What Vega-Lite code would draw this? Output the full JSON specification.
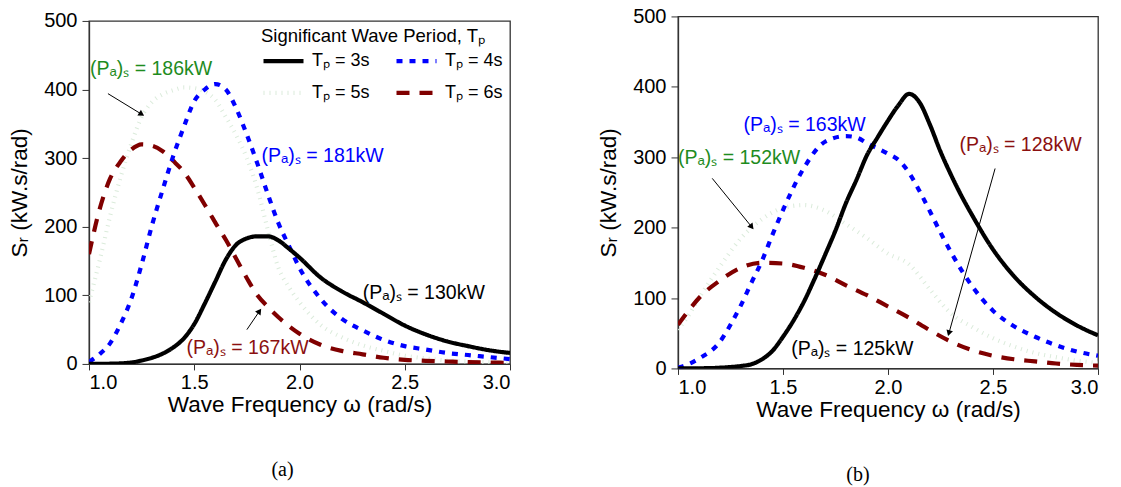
{
  "$schema": "https://vega.github.io/schema/vega-lite/v6.json",
  "background": "white",
  "padding": {"left": 7, "top": 5, "right": 5, "bottom": 5},
  "config": {
    "font": "Liberation Sans",
    "view": {"stroke": "#333", "strokeWidth": 1.3},
    "axis": {"grid": false, "domainColor": "#333", "domainWidth": 1.3, "tickColor": "#333", "labelColor": "#000", "titleColor": "#000", "labelFontSize": 20, "titleFontSize": 22.5, "titleFontWeight": "normal", "labelFont": "Liberation Sans", "titleFont": "Liberation Sans"},
    "text": {"font": "Liberation Sans", "fontSize": 19.5, "align": "left", "baseline": "middle"}
  },
  "datasets": {
    "a": [
      {"T":"5","w":1.0,"S":90},{"T":"5","w":1.05,"S":150},{"T":"5","w":1.1,"S":215},{"T":"5","w":1.15,"S":272},{"T":"5","w":1.2,"S":320},{"T":"5","w":1.25,"S":360},{"T":"5","w":1.3,"S":382},{"T":"5","w":1.35,"S":393},{"T":"5","w":1.4,"S":399},{"T":"5","w":1.45,"S":403},{"T":"5","w":1.5,"S":402},{"T":"5","w":1.55,"S":397},{"T":"5","w":1.6,"S":385},{"T":"5","w":1.65,"S":360},{"T":"5","w":1.7,"S":333},{"T":"5","w":1.75,"S":300},{"T":"5","w":1.8,"S":255},{"T":"5","w":1.85,"S":195},{"T":"5","w":1.9,"S":140},{"T":"5","w":1.95,"S":112},{"T":"5","w":2.0,"S":90},{"T":"5","w":2.1,"S":57},{"T":"5","w":2.2,"S":39},{"T":"5","w":2.3,"S":27},{"T":"5","w":2.4,"S":19},{"T":"5","w":2.5,"S":12},{"T":"5","w":2.6,"S":8},{"T":"5","w":2.7,"S":5},{"T":"5","w":2.8,"S":3.5},{"T":"5","w":2.9,"S":2.5},{"T":"5","w":3.0,"S":2},
      {"T":"6","w":1.0,"S":160},{"T":"6","w":1.05,"S":225},{"T":"6","w":1.1,"S":270},{"T":"6","w":1.15,"S":295},{"T":"6","w":1.2,"S":312},{"T":"6","w":1.25,"S":320},{"T":"6","w":1.3,"S":318},{"T":"6","w":1.35,"S":310},{"T":"6","w":1.4,"S":296},{"T":"6","w":1.45,"S":280},{"T":"6","w":1.5,"S":257},{"T":"6","w":1.55,"S":232},{"T":"6","w":1.6,"S":206},{"T":"6","w":1.65,"S":181},{"T":"6","w":1.7,"S":153},{"T":"6","w":1.75,"S":125},{"T":"6","w":1.8,"S":100},{"T":"6","w":1.85,"S":83},{"T":"6","w":1.9,"S":68},{"T":"6","w":2.0,"S":44},{"T":"6","w":2.1,"S":28},{"T":"6","w":2.2,"S":19},{"T":"6","w":2.3,"S":14},{"T":"6","w":2.4,"S":9},{"T":"6","w":2.5,"S":6},{"T":"6","w":2.6,"S":4.5},{"T":"6","w":2.7,"S":3.5},{"T":"6","w":2.8,"S":2.5},{"T":"6","w":2.9,"S":2},{"T":"6","w":3.0,"S":1.5},
      {"T":"4","w":1.0,"S":3},{"T":"4","w":1.05,"S":14},{"T":"4","w":1.1,"S":30},{"T":"4","w":1.15,"S":58},{"T":"4","w":1.2,"S":94},{"T":"4","w":1.25,"S":145},{"T":"4","w":1.3,"S":203},{"T":"4","w":1.35,"S":254},{"T":"4","w":1.4,"S":303},{"T":"4","w":1.45,"S":345},{"T":"4","w":1.5,"S":383},{"T":"4","w":1.55,"S":400},{"T":"4","w":1.6,"S":408},{"T":"4","w":1.65,"S":400},{"T":"4","w":1.7,"S":372},{"T":"4","w":1.75,"S":334},{"T":"4","w":1.8,"S":292},{"T":"4","w":1.85,"S":247},{"T":"4","w":1.9,"S":205},{"T":"4","w":1.95,"S":172},{"T":"4","w":2.0,"S":140},{"T":"4","w":2.1,"S":95},{"T":"4","w":2.2,"S":66},{"T":"4","w":2.3,"S":49},{"T":"4","w":2.4,"S":35},{"T":"4","w":2.5,"S":26},{"T":"4","w":2.6,"S":21},{"T":"4","w":2.7,"S":16},{"T":"4","w":2.8,"S":13},{"T":"4","w":2.9,"S":10},{"T":"4","w":3.0,"S":7},
      {"T":"3","w":1.0,"S":0},{"T":"3","w":1.1,"S":0.3},{"T":"3","w":1.2,"S":2},{"T":"3","w":1.25,"S":5},{"T":"3","w":1.3,"S":9},{"T":"3","w":1.35,"S":15},{"T":"3","w":1.4,"S":24},{"T":"3","w":1.45,"S":37},{"T":"3","w":1.5,"S":58},{"T":"3","w":1.55,"S":88},{"T":"3","w":1.6,"S":120},{"T":"3","w":1.65,"S":152},{"T":"3","w":1.7,"S":174},{"T":"3","w":1.75,"S":183},{"T":"3","w":1.8,"S":186},{"T":"3","w":1.85,"S":186},{"T":"3","w":1.9,"S":180},{"T":"3","w":1.95,"S":168},{"T":"3","w":2.0,"S":155},{"T":"3","w":2.1,"S":126},{"T":"3","w":2.2,"S":106},{"T":"3","w":2.3,"S":90},{"T":"3","w":2.4,"S":73},{"T":"3","w":2.5,"S":56},{"T":"3","w":2.6,"S":43},{"T":"3","w":2.7,"S":33},{"T":"3","w":2.8,"S":26},{"T":"3","w":2.9,"S":20},{"T":"3","w":3.0,"S":16}
    ],
    "b": [
      {"T":"5","w":1.0,"S":55},{"T":"5","w":1.05,"S":75},{"T":"5","w":1.1,"S":100},{"T":"5","w":1.2,"S":145},{"T":"5","w":1.3,"S":185},{"T":"5","w":1.4,"S":212},{"T":"5","w":1.5,"S":228},{"T":"5","w":1.6,"S":232},{"T":"5","w":1.7,"S":224},{"T":"5","w":1.8,"S":205},{"T":"5","w":1.9,"S":185},{"T":"5","w":2.0,"S":163},{"T":"5","w":2.1,"S":148},{"T":"5","w":2.2,"S":112},{"T":"5","w":2.3,"S":78},{"T":"5","w":2.4,"S":59},{"T":"5","w":2.5,"S":43},{"T":"5","w":2.6,"S":31},{"T":"5","w":2.7,"S":22},{"T":"5","w":2.8,"S":16},{"T":"5","w":2.9,"S":11},{"T":"5","w":3.0,"S":8},
      {"T":"6","w":1.0,"S":62},{"T":"6","w":1.05,"S":82},{"T":"6","w":1.1,"S":100},{"T":"6","w":1.2,"S":125},{"T":"6","w":1.3,"S":143},{"T":"6","w":1.4,"S":150},{"T":"6","w":1.5,"S":149},{"T":"6","w":1.6,"S":143},{"T":"6","w":1.7,"S":133},{"T":"6","w":1.8,"S":118},{"T":"6","w":1.9,"S":104},{"T":"6","w":2.0,"S":88},{"T":"6","w":2.1,"S":72},{"T":"6","w":2.2,"S":54},{"T":"6","w":2.3,"S":38},{"T":"6","w":2.4,"S":26},{"T":"6","w":2.5,"S":18},{"T":"6","w":2.6,"S":13},{"T":"6","w":2.7,"S":10},{"T":"6","w":2.8,"S":7},{"T":"6","w":2.9,"S":5},{"T":"6","w":3.0,"S":4},
      {"T":"4","w":1.0,"S":1},{"T":"4","w":1.05,"S":6},{"T":"4","w":1.1,"S":14},{"T":"4","w":1.2,"S":38},{"T":"4","w":1.25,"S":62},{"T":"4","w":1.3,"S":90},{"T":"4","w":1.35,"S":122},{"T":"4","w":1.4,"S":153},{"T":"4","w":1.45,"S":190},{"T":"4","w":1.5,"S":225},{"T":"4","w":1.6,"S":285},{"T":"4","w":1.7,"S":322},{"T":"4","w":1.8,"S":330},{"T":"4","w":1.85,"S":328},{"T":"4","w":1.9,"S":320},{"T":"4","w":2.0,"S":305},{"T":"4","w":2.05,"S":296},{"T":"4","w":2.1,"S":278},{"T":"4","w":2.15,"S":252},{"T":"4","w":2.2,"S":223},{"T":"4","w":2.25,"S":193},{"T":"4","w":2.3,"S":165},{"T":"4","w":2.4,"S":117},{"T":"4","w":2.5,"S":82},{"T":"4","w":2.6,"S":60},{"T":"4","w":2.7,"S":45},{"T":"4","w":2.8,"S":33},{"T":"4","w":2.9,"S":24},{"T":"4","w":3.0,"S":18},
      {"T":"3","w":1.0,"S":0},{"T":"3","w":1.1,"S":0.2},{"T":"3","w":1.2,"S":1},{"T":"3","w":1.25,"S":2},{"T":"3","w":1.3,"S":3.5},{"T":"3","w":1.35,"S":6},{"T":"3","w":1.4,"S":13},{"T":"3","w":1.45,"S":25},{"T":"3","w":1.5,"S":45},{"T":"3","w":1.55,"S":68},{"T":"3","w":1.6,"S":95},{"T":"3","w":1.65,"S":127},{"T":"3","w":1.7,"S":161},{"T":"3","w":1.75,"S":196},{"T":"3","w":1.8,"S":235},{"T":"3","w":1.85,"S":268},{"T":"3","w":1.9,"S":303},{"T":"3","w":1.95,"S":328},{"T":"3","w":2.0,"S":352},{"T":"3","w":2.05,"S":374},{"T":"3","w":2.1,"S":390},{"T":"3","w":2.15,"S":378},{"T":"3","w":2.2,"S":346},{"T":"3","w":2.25,"S":308},{"T":"3","w":2.3,"S":275},{"T":"3","w":2.35,"S":245},{"T":"3","w":2.4,"S":218},{"T":"3","w":2.5,"S":169},{"T":"3","w":2.6,"S":131},{"T":"3","w":2.7,"S":102},{"T":"3","w":2.8,"S":79},{"T":"3","w":2.9,"S":61},{"T":"3","w":3.0,"S":47}
    ]
  },
  "hconcat": [
    {
      "width": 421,
      "height": 343,
      "title": {"text": "(a)", "orient": "bottom", "font": "Liberation Serif", "fontSize": 20, "fontWeight": "normal", "offset": 44, "frame": "group", "anchor": "middle", "dx": -17, "color": "#000"},
      "layer": [
        {
          "data": {"name": "a"},
          "mark": {"type": "line", "interpolate": "monotone", "strokeWidth": 4.2, "clip": true},
          "encoding": {
            "x": {"field": "w", "type": "quantitative", "scale": {"domain": [1, 3], "nice": false}, "axis": {"title": "Wave Frequency ω (rad/s)", "values": [1, 1.5, 2, 2.5, 3], "format": ".1f", "tickSize": 6, "labelPadding": 3, "titlePadding": 1}},
            "y": {"field": "S", "type": "quantitative", "scale": {"domain": [0, 500], "nice": false}, "axis": {"title": "Sᵣ (kW.s/rad)", "values": [0, 100, 200, 300, 400, 500], "tickSize": 7, "labelPadding": 5, "titlePadding": 12}},
            "color": {"field": "T", "type": "nominal", "scale": {"domain": ["3", "4", "5", "6"], "range": ["#000000", "#0000ff", "#dbebdb", "#800000"]},
              "legend": {"title": "Significant Wave Period, Tₚ", "orient": "none", "direction": "horizontal", "legendX": 172, "legendY": 6, "columns": 2, "symbolType": "stroke", "symbolSize": 1600, "symbolStrokeWidth": 4.2, "labelExpr": "'Tₚ = ' + datum.label + 's'", "labelFontSize": 18, "titleFontSize": 18.5, "titleFontWeight": "normal", "titleColor": "#000", "labelColor": "#000", "columnPadding": 18, "rowPadding": -24, "labelOffset": 6, "titlePadding": -7, "titleLimit": 400}},
            "strokeDash": {"field": "T", "type": "nominal", "scale": {"domain": ["3", "4", "5", "6"], "range": [[1, 0], [6, 7], [1, 5], [13, 10]]},
              "legend": {"title": "Significant Wave Period, Tₚ", "orient": "none", "direction": "horizontal", "legendX": 172, "legendY": 6, "columns": 2, "symbolType": "stroke", "symbolSize": 1600, "symbolStrokeWidth": 4.2, "labelExpr": "'Tₚ = ' + datum.label + 's'", "labelFontSize": 18, "titleFontSize": 18.5, "titleFontWeight": "normal", "titleColor": "#000", "labelColor": "#000", "columnPadding": 18, "rowPadding": -24, "labelOffset": 6, "titlePadding": -7, "titleLimit": 400}}
          }
        },
        {
          "data": {"values": [{"w": 1.005, "S": 430, "label": "(Pₐ)ₛ = 186kW"}]},
          "mark": {"type": "text", "color": "#1e8c1e"},
          "encoding": {"x": {"field": "w", "type": "quantitative"}, "y": {"field": "S", "type": "quantitative"}, "text": {"field": "label"}}
        },
        {
          "data": {"values": [{"w": 1.82, "S": 303, "label": "(Pₐ)ₛ = 181kW"}]},
          "mark": {"type": "text", "color": "#0000ff"},
          "encoding": {"x": {"field": "w", "type": "quantitative"}, "y": {"field": "S", "type": "quantitative"}, "text": {"field": "label"}}
        },
        {
          "data": {"values": [{"w": 2.3, "S": 103, "label": "(Pₐ)ₛ = 130kW"}]},
          "mark": {"type": "text", "color": "#000000"},
          "encoding": {"x": {"field": "w", "type": "quantitative"}, "y": {"field": "S", "type": "quantitative"}, "text": {"field": "label"}}
        },
        {
          "data": {"values": [{"w": 1.463, "S": 23, "label": "(Pₐ)ₛ = 167kW"}]},
          "mark": {"type": "text", "color": "#8b1010"},
          "encoding": {"x": {"field": "w", "type": "quantitative"}, "y": {"field": "S", "type": "quantitative"}, "text": {"field": "label"}}
        },
        {
          "data": {"values": [{"w": 1.09, "S": 394, "w2": 1.25, "S2": 364}]},
          "mark": {"type": "rule", "color": "#000", "strokeWidth": 1},
          "encoding": {"x": {"field": "w", "type": "quantitative"}, "y": {"field": "S", "type": "quantitative"}, "x2": {"field": "w2"}, "y2": {"field": "S2"}}
        },
        {
          "data": {"values": [{"w": 1.25, "S": 364}]},
          "mark": {"type": "point", "shape": "triangle-right", "filled": true, "color": "#000", "size": 45, "angle": 32, "opacity": 1},
          "encoding": {"x": {"field": "w", "type": "quantitative"}, "y": {"field": "S", "type": "quantitative"}}
        },
        {
          "data": {"values": [{"w": 1.75, "S": 50, "w2": 1.81, "S2": 77}]},
          "mark": {"type": "rule", "color": "#000", "strokeWidth": 1},
          "encoding": {"x": {"field": "w", "type": "quantitative"}, "y": {"field": "S", "type": "quantitative"}, "x2": {"field": "w2"}, "y2": {"field": "S2"}}
        },
        {
          "data": {"values": [{"w": 1.81, "S": 77}]},
          "mark": {"type": "point", "shape": "triangle-right", "filled": true, "color": "#000", "size": 45, "angle": -55, "opacity": 1},
          "encoding": {"x": {"field": "w", "type": "quantitative"}, "y": {"field": "S", "type": "quantitative"}}
        }
      ]
    },
    {
      "width": 420,
      "height": 352,
      "title": {"text": "(b)", "orient": "bottom", "font": "Liberation Serif", "fontSize": 20, "fontWeight": "normal", "offset": 44, "frame": "group", "anchor": "middle", "dx": -30, "color": "#000"},
      "layer": [
        {
          "data": {"name": "b"},
          "mark": {"type": "line", "interpolate": "monotone", "strokeWidth": 4.2, "clip": true},
          "encoding": {
            "x": {"field": "w", "type": "quantitative", "scale": {"domain": [1, 3], "nice": false}, "axis": {"title": "Wave Frequency ω (rad/s)", "values": [1, 1.5, 2, 2.5, 3], "format": ".1f", "tickSize": 6, "labelPadding": 3, "titlePadding": 1}},
            "y": {"field": "S", "type": "quantitative", "scale": {"domain": [0, 500], "nice": false}, "axis": {"title": "Sᵣ (kW.s/rad)", "values": [0, 100, 200, 300, 400, 500], "tickSize": 7, "labelPadding": 5, "titlePadding": 12}},
            "color": {"field": "T", "type": "nominal", "scale": {"domain": ["3", "4", "5", "6"], "range": ["#000000", "#0000ff", "#dbebdb", "#800000"]}, "legend": null},
            "strokeDash": {"field": "T", "type": "nominal", "scale": {"domain": ["3", "4", "5", "6"], "range": [[1, 0], [6, 7], [1, 5], [13, 10]]}, "legend": null}
          }
        },
        {
          "data": {"values": [{"w": 1.312, "S": 346, "label": "(Pₐ)ₛ = 163kW"}]},
          "mark": {"type": "text", "color": "#0000ff"},
          "encoding": {"x": {"field": "w", "type": "quantitative"}, "y": {"field": "S", "type": "quantitative"}, "text": {"field": "label"}}
        },
        {
          "data": {"values": [{"w": 1.0, "S": 299, "label": "(Pₐ)ₛ = 152kW"}]},
          "mark": {"type": "text", "color": "#1e8c1e"},
          "encoding": {"x": {"field": "w", "type": "quantitative"}, "y": {"field": "S", "type": "quantitative"}, "text": {"field": "label"}}
        },
        {
          "data": {"values": [{"w": 2.34, "S": 317, "label": "(Pₐ)ₛ = 128kW"}]},
          "mark": {"type": "text", "color": "#8b1010"},
          "encoding": {"x": {"field": "w", "type": "quantitative"}, "y": {"field": "S", "type": "quantitative"}, "text": {"field": "label"}}
        },
        {
          "data": {"values": [{"w": 1.539, "S": 28, "label": "(Pₐ)ₛ = 125kW"}]},
          "mark": {"type": "text", "color": "#000000"},
          "encoding": {"x": {"field": "w", "type": "quantitative"}, "y": {"field": "S", "type": "quantitative"}, "text": {"field": "label"}}
        },
        {
          "data": {"values": [{"w": 1.163, "S": 270, "w2": 1.351, "S2": 201}]},
          "mark": {"type": "rule", "color": "#000", "strokeWidth": 1},
          "encoding": {"x": {"field": "w", "type": "quantitative"}, "y": {"field": "S", "type": "quantitative"}, "x2": {"field": "w2"}, "y2": {"field": "S2"}}
        },
        {
          "data": {"values": [{"w": 1.351, "S": 201}]},
          "mark": {"type": "point", "shape": "triangle-right", "filled": true, "color": "#000", "size": 45, "angle": 51, "opacity": 1},
          "encoding": {"x": {"field": "w", "type": "quantitative"}, "y": {"field": "S", "type": "quantitative"}}
        },
        {
          "data": {"values": [{"w": 2.51, "S": 284, "w2": 2.29, "S2": 50}]},
          "mark": {"type": "rule", "color": "#000", "strokeWidth": 1},
          "encoding": {"x": {"field": "w", "type": "quantitative"}, "y": {"field": "S", "type": "quantitative"}, "x2": {"field": "w2"}, "y2": {"field": "S2"}}
        },
        {
          "data": {"values": [{"w": 2.29, "S": 50}]},
          "mark": {"type": "point", "shape": "triangle-right", "filled": true, "color": "#000", "size": 45, "angle": 106, "opacity": 1},
          "encoding": {"x": {"field": "w", "type": "quantitative"}, "y": {"field": "S", "type": "quantitative"}}
        }
      ]
    }
  ],
  "spacing": 84,
  "center": true,
  "resolve": {"scale": {"color": "independent", "strokeDash": "independent"}, "legend": {"color": "independent", "strokeDash": "independent"}}
}
